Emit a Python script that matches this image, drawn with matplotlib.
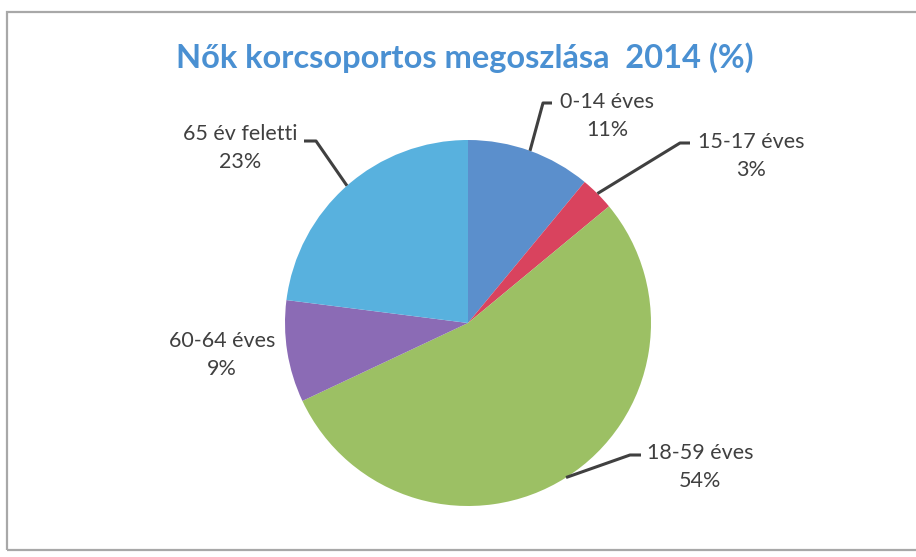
import numpy as np
import matplotlib
matplotlib.use("Agg")
import matplotlib.pyplot as plt
from matplotlib.patches import Rectangle

# Adatok
kategoriak = ["0-14 éves", "15-17 éves", "18-59 éves", "60-64 éves", "65 év feletti"]
ertekek = [11, 3, 54, 9, 23]
szinek = ["#5B8FCC", "#D9435E", "#9CC064", "#8B6BB5", "#58B1DE"]
cim = "Nők korcsoportos megoszlása  2014 (%)"

# elrendezés (pixelben): címkék közepe, és a vezetővonal könyöke
W, H = 916, 557
kozep, sugar = (468, 323), 183
cimke_pos = [(607, 116), (751, 156), (700, 467), (222, 355), (240, 148)]
konyok = [(543, 103), (680, 143), (630, 455), None, (316, 141)]
vonal_veg = [(552, 103), (690, 143), (641, 455), None, (304, 141)]

plt.rcParams["font.family"] = ["Lato", "DejaVu Sans"]
fig = plt.figure(figsize=(W / 100, H / 100), dpi=100)
fig.patch.set_facecolor("white")
fig.patches.append(Rectangle((7 / W, 1 - 550 / H), 1.2, (550 - 12) / H,
                             transform=fig.transFigure, fill=False,
                             edgecolor="#a8a8a8", lw=1.6))

ax = fig.add_axes([(kozep[0] - sugar) / W, (H - kozep[1] - sugar) / H,
                   2 * sugar / W, 2 * sugar / H])
wedges, _ = ax.pie(ertekek, colors=szinek, startangle=90, counterclock=False,
                   radius=1, wedgeprops=dict(linewidth=0))
ax.set_xlim(-1, 1)
ax.set_ylim(-1, 1)
ax.set_aspect("equal")
ax.axis("off")


def px2data(p):
    return ((p[0] - kozep[0]) / sugar, (kozep[1] - p[1]) / sugar)


for w, nev, v, pos, kk, vv in zip(wedges, kategoriak, ertekek, cimke_pos, konyok, vonal_veg):
    tx, ty = px2data(pos)
    ax.text(tx, ty, f"{nev}\n{v}%", ha="center", va="center", fontsize=15.5,
            color="#404040", linespacing=1.55, clip_on=False)
    if kk is None:
        continue
    szog = np.deg2rad((w.theta1 + w.theta2) / 2)
    ex, ey = np.cos(szog), np.sin(szog)
    kx, ky = px2data(kk)
    vx, vy = px2data(vv)
    ax.plot([ex, kx, vx], [ey, ky, vy], color="#404040", lw=2.2,
            solid_capstyle="butt", clip_on=False)

fig.text(465 / W, 1 - 58 / H, cim, ha="center", va="center", fontsize=23.5,
         fontweight="bold", color="#4A90D2")

fig.savefig("out.png", dpi=100)
